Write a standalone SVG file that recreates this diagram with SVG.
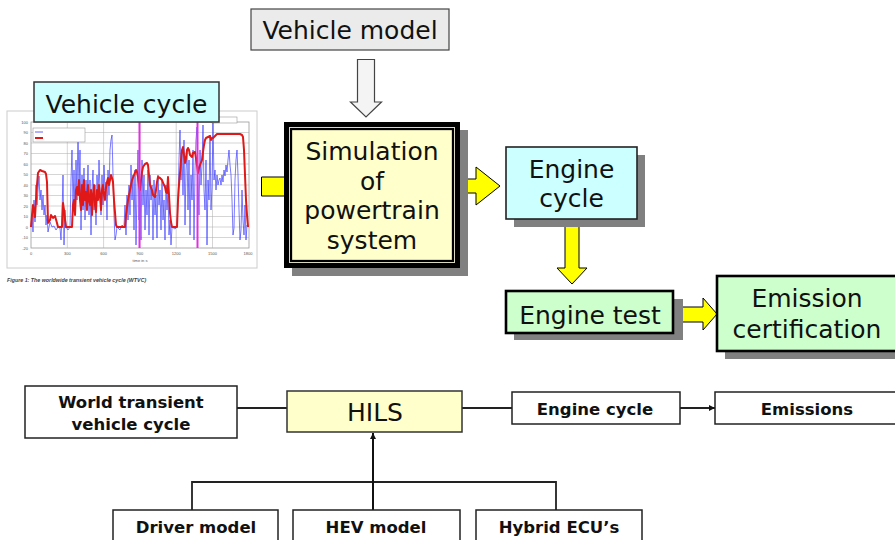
<svg xmlns="http://www.w3.org/2000/svg" width="895" height="540" viewBox="0 0 895 540">
<defs>
<style>
.big{font-family:"DejaVu Sans",Verdana,sans-serif;font-size:25px;fill:#111;text-anchor:middle}
.bold{font-family:"DejaVu Sans",Verdana,sans-serif;font-size:16.5px;font-weight:bold;fill:#111;text-anchor:middle}
.tiny{font-family:"Liberation Sans",Arial,sans-serif;font-size:4px;fill:#555}
.shadow{fill:#808080}
.yarrow{fill:#ffff00;stroke:#000;stroke-width:1}
.wbox{fill:#fff;stroke:#222;stroke-width:1.5}
.conn{fill:none;stroke:#222;stroke-width:1.8}
.grid{stroke:#aaa;stroke-width:0.5}
</style>
<marker id="ah" viewBox="0 0 10 10" refX="10" refY="5" markerWidth="6" markerHeight="6" orient="auto" markerUnits="userSpaceOnUse">
<path d="M0,0 L10,5 L0,10 z" fill="#111"/>
</marker>
</defs>
<rect width="895" height="540" fill="#fff"/>

<!-- chart -->
<g id="chart">
<rect x="7" y="111" width="250" height="157" fill="#fff" stroke="#ccc" stroke-width="1"/>
<rect x="31" y="122" width="218" height="126" fill="#fff" stroke="#999" stroke-width="0.8"/>
<g class="grid">
<line x1="31" y1="132.5" x2="249" y2="132.5"/><line x1="31" y1="143" x2="249" y2="143"/><line x1="31" y1="153.5" x2="249" y2="153.5"/><line x1="31" y1="164" x2="249" y2="164"/><line x1="31" y1="174.5" x2="249" y2="174.5"/><line x1="31" y1="185" x2="249" y2="185"/><line x1="31" y1="195.5" x2="249" y2="195.5"/><line x1="31" y1="206" x2="249" y2="206"/><line x1="31" y1="216.5" x2="249" y2="216.5"/><line x1="31" y1="227" x2="249" y2="227"/><line x1="31" y1="237.5" x2="249" y2="237.5"/>
<line x1="67.3" y1="122" x2="67.3" y2="248"/><line x1="103.6" y1="122" x2="103.6" y2="248"/><line x1="139.9" y1="122" x2="139.9" y2="248"/><line x1="176.2" y1="122" x2="176.2" y2="248"/><line x1="212.5" y1="122" x2="212.5" y2="248"/>
</g>
<rect x="212" y="117" width="25" height="6" fill="#fff" stroke="#999" stroke-width="0.6"/>
<polyline fill="none" stroke="#3a3aff" stroke-width="0.8" stroke-opacity="0.85" points="31,227 32,215 33,232 34,200 35,222 36,185 37,205 38,190 39,176 40,200 41,190 42,210 43,195 44,215 45,205 46,225 47,215 48,232 50,222 52,227 54,226 56,230 58,227 60,228 61,240 62,215 63,175 64,245 65,210 66,227 68,230 70,227 71,180 72,150 73,205 74,170 75,215 76,160 77,200 78,128 79,190 80,150 81,230 82,175 83,210 84,168 85,220 86,180 87,200 88,165 89,215 90,180 91,235 92,190 93,170 94,210 95,185 96,225 97,175 98,200 99,160 100,190 101,215 102,175 103,205 104,165 105,190 106,182 107,220 108,170 109,195 110,150 111,140 112,135 113,175 114,215 115,240 116,235 117,227 120,230 122,225 124,227 125,205 126,235 127,195 128,220 129,185 130,215 131,165 132,200 133,175 134,230 135,170 136,245 137,190 138,150 139,220 140,180 141,240 142,160 143,205 144,175 145,230 146,190 147,215 148,170 149,235 150,175 151,200 152,185 153,240 154,180 155,215 156,195 157,238 158,175 159,205 160,190 161,230 162,180 163,220 164,200 165,240 166,185 167,210 168,190 169,235 170,220 171,245 172,227 175,229 177,227 178,200 179,160 180,130 181,180 182,150 183,195 184,140 185,225 186,170 187,150 188,210 189,160 190,235 191,175 192,200 193,150 194,240 195,170 196,140 197,127 198,180 199,215 200,150 201,185 202,165 203,125 204,190 205,210 206,160 207,245 208,180 209,200 210,135 211,210 212,188 213,123 214,180 215,170 216,190 217,175 218,185 219,180 220,178 221,185 222,175 223,182 224,170 225,176 226,165 227,172 228,160 229,150 230,165 231,175 232,200 233,235 234,228 235,180 236,160 237,150 238,175 239,210 240,240 241,230 242,190 243,220 244,235 245,205 246,240 247,225 248,227"/>
<polyline fill="none" stroke="#e01818" stroke-width="2" stroke-linejoin="round" points="31,227 32,215 33,205 34,210 35,217 36,200 37,185 38,173 40,170 42,171 45,172 46,174 47,182 48,223 50,220 51,215 53,218 55,216 57,223 58,227 62,227 63,203 64,210 65,220 66,227 72,227 73,205 74,200 75,215 76,190 77,187 78,195 79,180 80,200 81,210 82,185 83,205 84,180 85,200 86,192 87,210 88,185 89,200 90,205 91,190 92,215 93,195 94,185 95,205 96,212 97,190 98,200 99,185 100,195 101,210 102,190 103,185 104,195 105,200 106,188 107,182 108,178 109,185 110,180 111,175 112,178 113,182 114,200 116,225 117,227 125,227 126,215 127,207 128,200 130,190 132,180 134,175 136,170 137,172 138,177 139,185 140,190 141,180 142,172 143,167 145,164 147,163 148,165 149,175 150,185 152,190 153,195 155,197 156,190 157,182 158,177 160,178 162,180 164,185 165,187 166,192 167,193 168,177 169,195 170,213 171,222 172,227 177,227 178,200 179,185 180,173 181,160 182,150 183,147 184,155 185,163 186,158 187,150 188,148 189,150 190,155 192,157 193,153 195,152 196,158 197,165 198,173 199,168 200,165 202,160 203,152 204,145 205,140 206,138 208,137 210,136 211,140 212,138 213,138 215,136 217,134 230,134 240,134 242,135 243,137 244,150 245,175 246,200 247,215 248,227"/>
<line x1="139.5" y1="122" x2="139.5" y2="248" stroke="#e030e0" stroke-width="2"/>
<line x1="197.5" y1="122" x2="197.5" y2="248" stroke="#e030e0" stroke-width="2"/>
<rect x="33" y="128" width="52" height="14" fill="#fff" stroke="#999" stroke-width="0.6"/>
<line x1="35" y1="132" x2="43" y2="132" stroke="#3a3aff" stroke-width="0.8"/>
<line x1="35" y1="138" x2="43" y2="138" stroke="#e01818" stroke-width="2"/>
<g class="tiny" text-anchor="end">
<text x="28" y="123.5">100</text><text x="28" y="134">90</text><text x="28" y="144.5">80</text><text x="28" y="155">70</text><text x="28" y="165.5">60</text><text x="28" y="176">50</text><text x="28" y="186.5">40</text><text x="28" y="197">30</text><text x="28" y="207.5">20</text><text x="28" y="218">10</text><text x="28" y="228.5">0</text><text x="28" y="239">-10</text><text x="28" y="249.5">-20</text>
</g>
<g class="tiny" text-anchor="middle">
<text x="31" y="255">0</text><text x="67.3" y="255">300</text><text x="103.6" y="255">600</text><text x="139.9" y="255">900</text><text x="176.2" y="255">1200</text><text x="212.5" y="255">1500</text><text x="248" y="255">1800</text>
<text x="140" y="262">time in s</text>
</g>
<text x="7" y="282" style="font-family:'Liberation Sans',Arial,sans-serif;font-size:5.3px;font-style:italic;font-weight:bold;fill:#444">Figure 1: The worldwide transient vehicle cycle (WTVC)</text>
</g>

<!-- connectors (top) -->
<g id="connectors-top">
<path d="M261.5,177 H286 V196 H261.5 Z" class="yarrow"/>
<path d="M357.5,59.5 H374.5 V102 H381.5 L366,117 L350.5,102 H357.5 Z" fill="#f4f4f4" stroke="#444" stroke-width="1.2"/>
<path d="M460,179 H476 V167 L500,186 L476,205 V193 H460 Z" class="yarrow"/>
<path d="M565,222 H579 V268 H587 L572,284 L557,268 H565 Z" class="yarrow"/>
<path d="M680,307 H703 V298 L717,314 L703,330 V322 H680 Z" class="yarrow"/>
</g>

<g id="vehicle-cycle">
<rect x="34" y="82" width="185" height="40" fill="#ccffff" stroke="#333" stroke-width="1.5"/>
<text x="126.5" y="113" class="big">Vehicle cycle</text>
</g>

<g id="vehicle-model">
<rect x="251" y="9" width="198" height="41" fill="#ebebeb" stroke="#444" stroke-width="1.2"/>
<text x="350" y="39" class="big">Vehicle model</text>
</g>

<g id="simulation">
<rect x="292" y="130" width="176" height="146" class="shadow"/>
<rect x="284" y="122" width="176" height="146" fill="#000"/>
<rect x="289.5" y="127.5" width="165" height="135" fill="none" stroke="#d8d8c0" stroke-width="1"/>
<rect x="291.5" y="129.5" width="161" height="131" fill="#ffffcc" stroke="#000" stroke-width="1.3"/>
<text class="big"><tspan x="372" y="160">Simulation</tspan><tspan x="372" y="189.5">of</tspan><tspan x="372" y="219">powertrain</tspan><tspan x="372" y="248.5">system</tspan></text>
</g>

<g id="engine-cycle">
<rect x="514" y="155" width="131" height="72" class="shadow"/>
<rect x="506" y="147" width="131" height="72" fill="#ccffff" stroke="#222" stroke-width="1.6"/>
<text class="big"><tspan x="571.5" y="178">Engine</tspan><tspan x="571.5" y="207">cycle</tspan></text>
</g>

<g id="engine-test">
<rect x="514" y="299" width="169" height="41" class="shadow"/>
<rect x="506" y="291" width="167" height="42" fill="#ccffcc" stroke="#000" stroke-width="2.6"/>
<text x="590" y="324" class="big">Engine test</text>
</g>

<g id="emission-certification">
<rect x="725" y="284" width="178" height="75" class="shadow"/>
<rect x="717" y="276" width="180" height="75" fill="#ccffcc" stroke="#000" stroke-width="2.6"/>
<text class="big"><tspan x="807" y="307">Emission</tspan><tspan x="807" y="338">certification</tspan></text>
</g>

<!-- bottom connectors -->
<g id="connectors-bottom">
<line x1="237" y1="408" x2="287" y2="408" class="conn"/>
<line x1="462" y1="408" x2="512" y2="408" class="conn"/>
<line x1="680" y1="408" x2="715" y2="408" class="conn" marker-end="url(#ah)"/>
<polyline points="192,510 192,482 556,482 556,510" class="conn"/>
<line x1="373" y1="510" x2="373" y2="433" stroke="#111" stroke-width="2" marker-end="url(#ah)"/>
</g>

<g id="world-transient">
<rect x="25" y="386" width="212" height="52" class="wbox"/>
<text class="bold"><tspan x="131" y="408">World transient</tspan><tspan x="131" y="430">vehicle cycle</tspan></text>
</g>

<g id="hils">
<rect x="287" y="391" width="175" height="41" fill="#ffffcc" stroke="#333" stroke-width="1.5"/>
<text x="375" y="421" class="big">HILS</text>
</g>

<g id="engine-cycle-2">
<rect x="512" y="392" width="168" height="32" class="wbox"/>
<text x="595" y="414.5" class="bold">Engine cycle</text>
</g>

<g id="emissions">
<rect x="715" y="392" width="185" height="32" class="wbox"/>
<text x="807" y="414.5" class="bold">Emissions</text>
</g>

<g id="driver-model">
<rect x="113" y="510" width="165" height="40" class="wbox"/>
<text x="196" y="533" class="bold">Driver model</text>
</g>

<g id="hev-model">
<rect x="293" y="510" width="167" height="40" class="wbox"/>
<text x="376" y="533" class="bold">HEV model</text>
</g>

<g id="hybrid-ecus">
<rect x="476" y="510" width="166" height="40" class="wbox"/>
<text x="559" y="533" class="bold">Hybrid ECU’s</text>
</g>
</svg>
